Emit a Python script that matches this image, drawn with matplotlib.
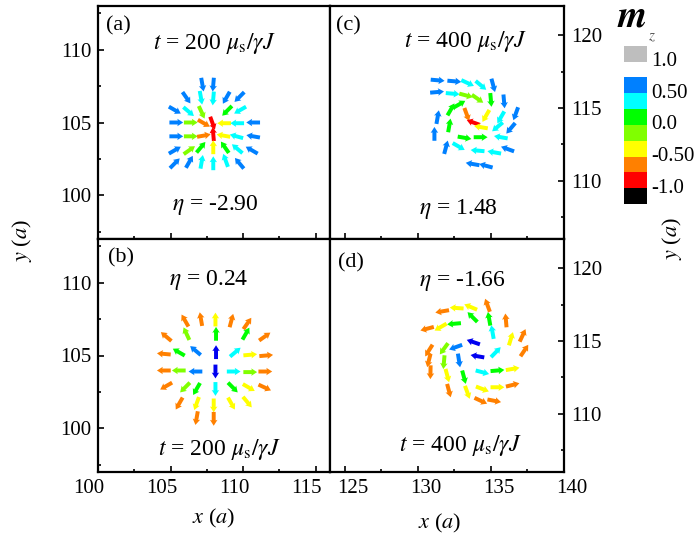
import numpy as np
import matplotlib
matplotlib.use('Agg')
import matplotlib.pyplot as plt
from matplotlib.colors import ListedColormap, BoundaryNorm
import matplotlib.transforms as mtransforms
from matplotlib.ticker import MultipleLocator

plt.rcParams['font.family'] = ['Liberation Serif', 'DejaVu Serif']
plt.rcParams['mathtext.fontset'] = 'stix'

# ---------------- colour scale (m_z) ----------------
mz_bounds = [-1.25, -1.0, -0.75, -0.5, -0.25, 0.0, 0.25, 0.5, 0.75, 1.0]
mz_colors = ['#000000', '#FF0000', '#FF8000', '#FFFF00', '#80FF00', '#00FF00', '#00FFFF',
             '#0080FF', '#0000F0']
cbar_bounds = mz_bounds[:9]
cbar_colors = mz_colors[:8]
mz_top_bounds = [1.0, 1.25]
mz_top_color = '#BEBEBE'
mz_ticks = [1.0, 0.5, 0.0, -0.5, -1.0]
mz_ticklabels = ['1.0', '0.50', '0.0', '-0.50', '-1.0']

# mz values used for the arrows
DB, B, C, G, LG, Y, O, R = 0.85, 0.6, 0.4, 0.1, -0.1, -0.4, -0.6, -0.9

# ---------------- panel (a) t=200, eta=-2.90 ----------------
a_x = [107.2, 107.95,
       106.1, 107.1, 107.95, 108.85, 109.75,
       105.3, 106.25, 107.15, 108.9, 109.8,
       105.4, 106.4, 107.3, 107.9, 108.7, 109.6, 110.7,
       105.4, 106.4, 107.3, 107.95, 108.65, 109.55, 110.7,
       105.3, 106.3, 107.1, 107.95, 108.75, 109.6, 110.6,
       105.3, 106.3, 107.15, 107.95, 108.8, 109.75]
a_y = [107.6, 107.6,
       106.7, 106.7, 106.65, 106.7, 106.75,
       105.85, 105.75, 105.7, 105.8, 105.85,
       105.0, 105.0, 104.95, 104.95, 104.95, 104.95, 105.0,
       104.05, 104.05, 104.1, 104.2, 104.1, 104.05, 104.05,
       103.1, 103.1, 103.3, 103.3, 103.3, 103.2, 103.1,
       102.2, 102.3, 102.3, 102.2, 102.4, 102.2]
a_ang = [-80, -95,
         -55, -80, -95, -120, -135,
         -30, -40, -65, -135, -150,
         0, 0, -30, -70, 180, 180, 180,
         0, 0, 10, 95, 170, 165, 170,
         30, 35, 50, 90, 125, 140, 150,
         45, 60, 80, 90, 110, 130]
a_mz = [B, B,
        B, C, C, B, B,
        B, C, LG, G, C,
        B, LG, O, R, Y, C, B,
        B, LG, O, R, Y, C, B,
        B, LG, G, Y, G, C, B,
        B, B, C, C, C, B]

# ---------------- panel (b) t=200, eta=0.24 ----------------
b_x = [106.0, 107.1, 108.1, 109.2, 110.3,
       104.7, 106.1, 108.14, 110.2, 111.5,
       104.54, 105.57, 106.72, 108.14, 109.47, 110.5, 111.6,
       104.54, 105.57, 106.72, 108.1, 109.36, 110.5, 111.54,
       104.7, 106.0, 106.8, 108.1, 109.3, 110.4, 111.5,
       105.6, 106.8, 107.98, 109.2, 110.3,
       106.8, 107.98]
b_y = [107.4, 107.5, 107.47, 107.4, 107.2,
       106.3, 106.5, 106.49, 106.5, 106.3,
       105.11, 105.23, 105.34, 105.23, 105.23, 105.05, 105.0,
       103.97, 103.97, 103.9, 103.9, 103.9, 103.86, 103.9,
       102.9, 102.8, 102.7, 102.7, 102.8, 102.8, 102.8,
       101.7, 101.7, 101.57, 101.7, 101.8,
       100.7, 100.65]
b_ang = [120, 100, 90, 75, 55,
         140, 115, 90, 60, 35,
         175, 150, 140, 90, 40, 5, 5,
         180, 180, 180, -90, 0, 0, 0,
         -150, -135, -120, -90, -45, -30, -25,
         -120, -110, -90, -60, -50,
         -100, -90]
b_mz = [O, O, Y, O, O,
        O, LG, G, G, O,
        O, G, B, DB, C, Y, O,
        O, LG, B, DB, C, LG, O,
        O, LG, G, C, G, Y, O,
        O, Y, Y, Y, Y,
        O, O]

# ---------------- panel (c) t=400, eta=1.48 ----------------
c_x = [131.36, 132.5, 133.41, 134.32, 135.16,
       131.32, 132.39, 133.3, 134.09, 135.0, 135.9,
       131.36, 132.27, 132.84, 133.35, 133.8, 134.66, 135.68, 136.7,
       131.14, 132.16, 134.32, 135.45, 136.36,
       131.93, 132.8, 133.2, 134.3, 135.68,
       134.09, 135.23, 136.14,
       133.75, 134.66]
c_y = [116.9, 116.83, 116.71, 116.55, 116.55,
       116.09, 115.98, 115.86, 115.63, 115.55, 115.45,
       114.37, 114.9, 115.25, 114.55, 114.0, 114.45, 114.35, 114.6,
       113.22, 113.8, 113.68, 113.7, 113.6,
       112.3, 112.35, 112.95, 112.99, 112.99,
       112.07, 111.95, 112.18,
       111.15, 111.03]
c_ang = [-5, -5, -25, -40, -75,
         5, -5, -15, -35, -85, -85,
         80, 60, 30, -70, 160, -120, -120, -110,
         90, 80, 170, -140, -130,
         75, -30, -10, 0, 170,
         175, 170, 160,
         170, 165]
c_mz = [B, B, C, C, B,
        B, C, LG, LG, G, B,
        B, G, G, O, R, Y, C, B,
        B, G, Y, C, B,
        B, C, G, G, C,
        C, C, B,
        B, B]

# ---------------- panel (d) t=400, eta=-1.66 ----------------
d_x = [131.67, 132.66, 133.62, 134.77, 133.74, 134.88, 136.03,
       132.48, 131.56, 130.64, 137.17, 136.37, 135.11, 133.8,
       132.59, 131.79, 130.76, 137.29, 135.34, 134.08,
       132.82, 131.79, 130.76, 136.49, 135.45, 134.42,
       133.16, 132.02, 130.87, 135.45, 136.49, 134.42,
       133.39, 132.13, 135.23, 134.31]
d_y = [117.03, 117.26, 117.33, 117.45, 116.64, 116.52, 116.41,
       116.18, 115.95, 115.84, 115.38, 115.15, 115.61, 114.92,
       114.57, 114.46, 114.34, 114.34, 114.23, 113.95,
       113.66, 113.54, 113.66, 113.08, 112.97, 112.85,
       112.51, 112.62, 112.85, 111.82, 111.98, 111.7,
       111.47, 111.59, 110.89, 110.89]
d_ang = [190, 176, 157, 110, 135, 100, 95,
         185, 210, 195, 65, 73, 100, 161,
         200, 234, 238, 56, 46, 170,
         -81, -95, -104, 10, 5, -15,
         -75, -75, -91, 0, 14, -21,
         -70, -75, -11, -25]
d_mz = [O, Y, Y, O, G, G, O,
        G, Y, O, O, Y, C, DB,
        B, LG, O, O, C, DB,
        B, LG, O, Y, G, C,
        G, Y, O, Y, O, Y,
        Y, O, O, O]

# ---------------- figure ----------------
W, H = 699, 538
fig = plt.figure(figsize=(W / 100, H / 100), dpi=100)


def px_axes(x0, y0, x1, y1):
    return fig.add_axes([x0 / W, 1 - y1 / H, (x1 - x0) / W, (y1 - y0) / H])


cmap = ListedColormap(mz_colors)
norm = BoundaryNorm(mz_bounds, cmap.N)

axA = px_axes(98, 6, 330, 239)
axC = px_axes(330, 6, 564, 239)
axB = px_axes(98, 239, 330, 472)
axD = px_axes(330, 239, 564, 472)

L = 0.95


def draw(ax, xs, ys, ang, mz):
    a = np.deg2rad(np.array(ang, dtype=float))
    ax.quiver(xs, ys, L * np.cos(a), L * np.sin(a), mz, cmap=cmap, norm=norm,
              angles='xy', scale_units='xy', scale=1, pivot='mid',
              width=0.017, headwidth=1.9, headlength=1.5, headaxislength=1.35)


draw(axA, a_x, a_y, a_ang, a_mz)
draw(axB, b_x, b_y, b_ang, b_mz)
draw(axC, c_x, c_y, c_ang, c_mz)
draw(axD, d_x, d_y, d_ang, d_mz)

left_xlim = (100, 116)
right_xlim = (124, 140)
left_ylim = (97, 113)
right_ylim = (106, 122)
left_xticks = [100, 105, 110, 115]
right_xticks = [125, 130, 135, 140]
left_yticks = [100, 105, 110]
right_yticks = [110, 115, 120]

for ax in (axA, axB):
    ax.set_xlim(*left_xlim)
    ax.set_ylim(*left_ylim)
    ax.set_xticks(left_xticks)
    ax.set_yticks(left_yticks)
for ax in (axC, axD):
    ax.set_xlim(*right_xlim)
    ax.set_ylim(*right_ylim)
    ax.set_xticks(right_xticks)
    ax.set_yticks(right_yticks)

for ax in (axA, axB, axC, axD):
    ax.xaxis.set_minor_locator(MultipleLocator(2.5))
    ax.yaxis.set_minor_locator(MultipleLocator(2.5))
    for s in ax.spines.values():
        s.set_linewidth(1.6)
    ax.tick_params(which='both', direction='in', labelsize=15, width=1.2, pad=5)
    ax.tick_params(which='major', length=4)
    ax.tick_params(which='minor', length=2.5)

axA.tick_params(which='both', labelbottom=False)
axC.tick_params(which='both', left=False, right=True, labelleft=False, labelright=True, labelbottom=False)
axD.tick_params(which='both', left=False, right=True, labelleft=False, labelright=True)

# shift x tick labels like the reference
offB = mtransforms.ScaledTranslation(-9 / 100, 0, fig.dpi_scale_trans)
offD = mtransforms.ScaledTranslation(8 / 100, 0, fig.dpi_scale_trans)
for t in axB.xaxis.get_major_ticks():
    t.label1.set_transform(t.label1.get_transform() + offB)
for t in axD.xaxis.get_major_ticks():
    t.label1.set_transform(t.label1.get_transform() + offD)


def ftext(X, Y, s, **kw):
    kw.setdefault('fontsize', 17)
    kw.setdefault('ha', 'center')
    kw.setdefault('va', 'center')
    fig.text(X / W, 1 - Y / H, s, **kw)


ftext(118, 26, '(a)', fontsize=16)
ftext(214, 43, r'$t$ = 200 $\mu_{\rm s}/\gamma J$')
ftext(215, 205, r'$\eta$ = -2.90')

ftext(121, 258, '(b)', fontsize=16)
ftext(209, 280, r'$\eta$ = 0.24')
ftext(219, 450, r'$t$ = 200 $\mu_{\rm s}/\gamma J$')

ftext(348, 26, '(c)', fontsize=16)
ftext(465, 42, r'$t$ = 400 $\mu_{\rm s}/\gamma J$')
ftext(458, 209, r'$\eta$ = 1.48')

ftext(351, 263, '(d)', fontsize=16)
ftext(462, 281, r'$\eta$ = -1.66')
ftext(460, 446, r'$t$ = 400 $\mu_{\rm s}/\gamma J$')

ftext(214, 518, r'$x$ ($a$)', fontsize=16)
ftext(440, 523, r'$x$ ($a$)', fontsize=16)
ftext(22, 240, r'$y$ ($a$)', rotation=90, fontsize=16)
ftext(672, 238, r'$y$ ($a$)', rotation=90, fontsize=16)

# ---------------- colour bar ----------------
cax = px_axes(624, 45.7, 647, 204)
cax.set_xlim(0, 1)
cax.set_ylim(-1.25, 1.25)
cax.bar(0.5, np.diff(cbar_bounds), bottom=cbar_bounds[:-1], width=1.0, color=cbar_colors)
cax.bar(0.5, mz_top_bounds[1] - mz_top_bounds[0], bottom=mz_top_bounds[0], width=1.0,
        color=mz_top_color)
cax.axis('off')
for v, lab in zip(mz_ticks, mz_ticklabels):
    cax.text(1.2, v, lab, transform=cax.get_yaxis_transform(), ha='left', va='center',
             fontsize=15)
ftext(632, 17, r'$\boldsymbol{m}$', fontsize=27)
ftext(652, 38, r'$z$', fontsize=11, color='#555555')

fig.savefig('out.png', dpi=100)
